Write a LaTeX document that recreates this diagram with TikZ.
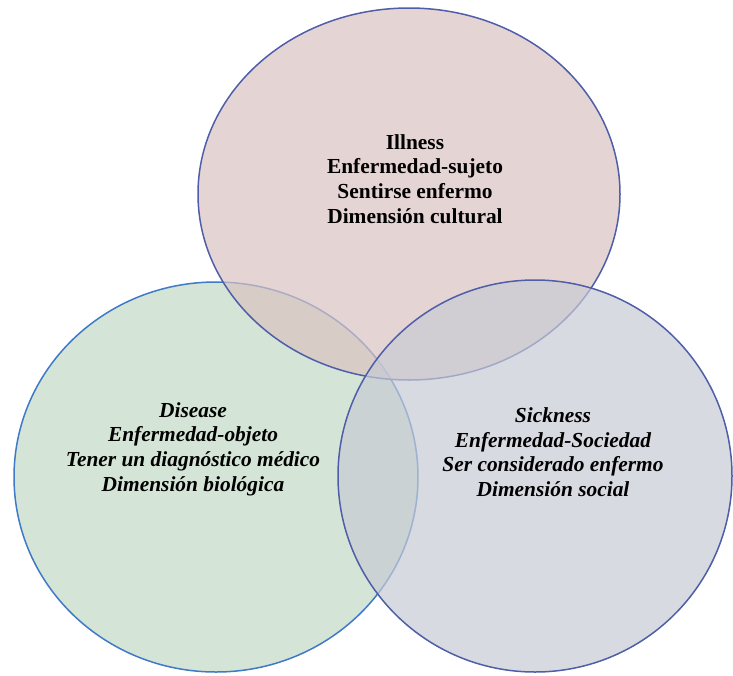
\documentclass[tikz,border=0pt]{standalone}
\usepackage{fontspec}
\setmainfont{Liberation Serif}
\begin{document}
\definecolor{pinkfill}{RGB}{218,194,194}
\definecolor{greenfill}{RGB}{194,216,196}
\definecolor{grayfill}{RGB}{199,202,212}
\definecolor{rimblue}{RGB}{78,94,168}
\definecolor{rimgreen}{RGB}{62,122,200}
\begin{tikzpicture}[x=1pt,y=-1pt,
  set/.style={fill opacity=0.7, draw opacity=1, line width=1.5pt},
  label/.style={align=center, text=black,
    font=\fontsize{21.4}{24.6}\selectfont\bfseries}]
\useasboundingbox (0,0) rectangle (733,675);
% Disease (biological), bottom left
\draw[set, draw=rimgreen, fill=greenfill] (216,477) ellipse [x radius=202pt, y radius=195pt];
% Illness (cultural), top
\draw[set, draw=rimblue, fill=pinkfill] (409,194) ellipse [x radius=211pt, y radius=186pt];
% Sickness (social), bottom right
\draw[set, draw=rimblue, fill=grayfill] (535,476) ellipse [x radius=197pt, y radius=196pt];
\node[label] (illness) at (415,179) {Illness\\Enfermedad-sujeto\\Sentirse enfermo\\Dimensión cultural};
\node[label, font=\fontsize{21.4}{24.6}\selectfont\bfseries\itshape] (disease) at (193,449)
  {Disease\\Enfermedad-objeto\\Tener un diagnóstico médico\\Dimensión biológica};
\node[label, font=\fontsize{21.4}{24.6}\selectfont\bfseries\itshape] (sickness) at (553,452)
  {Sickness\\Enfermedad-Sociedad\\Ser considerado enfermo\\Dimensión social};
\end{tikzpicture}
\end{document}
